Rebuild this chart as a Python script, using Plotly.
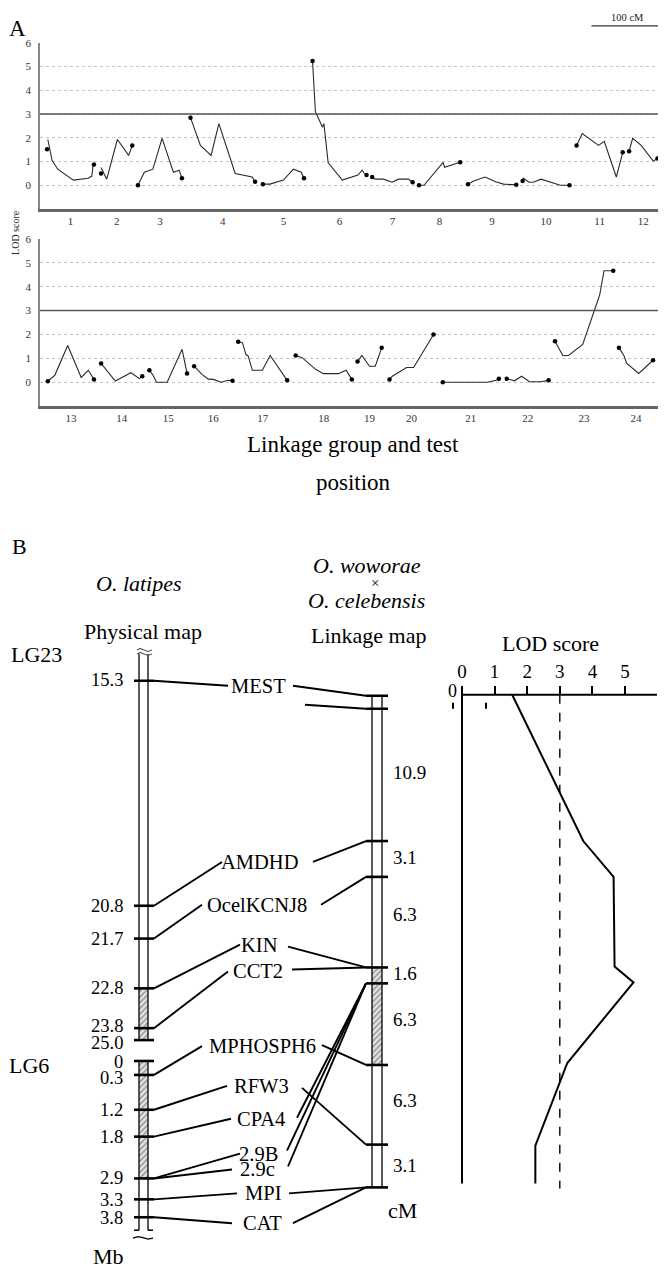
import plotly.graph_objects as go

# target canvas in page pixels; the page body adds an 8px margin, so the figure is drawn 8px smaller
PAGE_W, PAGE_H = 666, 1271
OFF = 8
W, H = PAGE_W - OFF, PAGE_H - OFF
SERIF = "Liberation Serif, Times New Roman, Times, serif"

# ---------------- Panel A data (positions in cM along the genome, LOD scores) ----------------
top_groups = [str(i) for i in range(1, 13)]
bot_groups = [str(i) for i in range(13, 25)]

top_pos = [
    [11, 17, 25, 47, 68, 73, 75],
    [86, 94, 109, 125, 130],
    [138, 147, 159, 172, 188, 196, 200],
    [212, 226, 241, 252, 275, 299, 303],
    [314, 324, 343, 357, 368, 372],
    [384, 388, 398, 400, 406, 426, 448, 454, 457],
    [468, 472, 484, 496, 505, 519, 525],
    [534, 541, 568, 570, 592],
    [603, 611, 627, 642, 653, 671],
    [680, 681, 689, 695, 706, 733, 746],
    [756, 764, 787, 795, 812, 821],
    [830, 835, 847, 864, 870],
]
top_lod = [
    [1.93, 1.05, 0.68, 0.22, 0.30, 0.39, 0.88],
    [0.75, 0.26, 1.93, 1.26, 1.68],
    [0.00, 0.55, 0.68, 1.98, 0.55, 0.64, 0.30],
    [2.85, 1.68, 1.26, 2.60, 0.50, 0.35, 0.15],
    [0.05, 0.05, 0.22, 0.68, 0.55, 0.30],
    [5.24, 3.10, 2.45, 2.60, 0.95, 0.22, 0.43, 0.64, 0.50],
    [0.35, 0.26, 0.26, 0.13, 0.26, 0.26, 0.13],
    [0.00, 0.00, 0.97, 0.76, 0.97],
    [0.05, 0.18, 0.35, 0.15, 0.05, 0.02],
    [0.18, 0.30, 0.13, 0.13, 0.26, 0.00, 0.00],
    [1.68, 2.18, 1.68, 1.85, 0.35, 1.39],
    [1.43, 1.98, 1.68, 1.02, 1.13],
]
top_mark_pos = [[10, 76], [86, 130], [138, 200], [212, 303], [314, 372], [384, 460],
                [468, 525], [534, 592], [603, 671], [680, 746], [756, 821], [830, 870]]
top_mark_lod = [[1.52, 0.88], [0.50, 1.68], [0.00, 0.30], [2.85, 0.15], [0.05, 0.30], [5.24, 0.43],
                [0.35, 0.13], [0.00, 0.97], [0.05, 0.02], [0.18, 0.00], [1.68, 1.39], [1.43, 1.13]]

bot_pos = [
    [11, 21, 39, 58, 68, 76],
    [86, 106, 128, 140, 144],
    [154, 159, 164, 179, 200, 207],
    [217, 228, 237, 244, 255, 265, 271],
    [279, 285, 290, 293, 299, 313, 324, 348],
    [360, 369, 388, 399, 420, 431, 439],
    [447, 453, 464, 472, 481],
    [492, 496, 516, 526, 554],
    [567, 630, 642, 646],
    [657, 668, 678, 689, 705, 716],
    [725, 736, 744, 764, 785, 788, 794, 807],
    [815, 822, 826, 843, 863],
]
bot_lod = [
    [0.04, 0.30, 1.54, 0.20, 0.50, 0.12],
    [0.79, 0.05, 0.40, 0.15, 0.25],
    [0.50, 0.30, 0.00, 0.00, 1.38, 0.37],
    [0.67, 0.33, 0.13, 0.12, 0.00, 0.08, 0.06],
    [1.70, 1.65, 1.16, 1.10, 0.50, 0.50, 1.12, 0.08],
    [1.12, 1.03, 0.54, 0.36, 0.36, 0.50, 0.12],
    [0.87, 1.12, 0.67, 0.67, 1.44],
    [0.12, 0.25, 0.62, 0.62, 2.00],
    [0.00, 0.00, 0.08, 0.15],
    [0.15, 0.06, 0.25, 0.02, 0.02, 0.08],
    [1.72, 1.12, 1.12, 1.58, 3.40, 3.67, 4.67, 4.67],
    [1.44, 1.12, 0.79, 0.37, 0.92],
]
lod_threshold = 3.0
scale_bar_cm = 100
top_range = [0, 882]
bot_range = [0, 870]

# ---------------- Panel B data (schematic map positions in drawing units) ----------------
phys_tick_labels = ["15.3", "20.8", "21.7", "22.8", "23.8", "25.0", "0", "0.3", "1.2", "1.8", "2.9", "3.3", "3.8"]
phys_tick_pos = [678, 904, 937, 987, 1027, 1039, 1060, 1074, 1109, 1136, 1178, 1199, 1217]
phys_label_pos = [677, 904, 937, 987, 1025, 1042, 1061, 1077, 1109, 1136, 1178, 1200, 1218]
phys_hatch = [(987, 1039), (1060, 1178)]
phys_bars = [(651, 1039), (1060, 1230)]

link_tick_pos = [693, 706, 839, 875, 966, 982, 1064, 1144, 1187]
link_interval_labels = ["10.9", "3.1", "6.3", "1.6", "6.3", "6.3", "3.1"]
link_interval_pos = [770, 856, 913, 972, 1018, 1100, 1165]
link_hatch = [(966, 1064)]

genes = ["MEST", "AMDHD", "OcelKCNJ8", "KIN", "CCT2", "MPHOSPH6", "RFW3", "CPA4", "2.9B", "2.9c", "MPI", "CAT"]
gene_phys_pos = [678, 904, 937, 987, 1027, 1074, 1109, 1136, 1178, 1178, 1199, 1217]
gene_link_pos = [693, 839, 875, 966, 966, 1064, 1144, 982, 982, 982, 1187, 1187]
gene_label_x = [258, 259, 257, 259, 258, 262, 261, 261, 258, 257, 263, 262]
gene_label_y = [683, 860, 903, 943, 970, 1045, 1085, 1118, 1153, 1169, 1193, 1223]
gene_left_end = [228, 222, 202, 240, 228, 202, 227, 231, 240, 232, 237, 232]
gene_right_start = [293, 313, 321, 288, 292, 322, 302, 297, 287, 288, 289, 293]
gene_right_y = [683, 860, 903, 945, 968, 1044, 1087, 1117, 1150, 1166, 1193, 1223]

lod_curve_pos = [692, 839, 875, 965, 981, 1062, 1145, 1183]
lod_curve_val = [1.54, 3.72, 4.65, 4.68, 5.26, 3.23, 2.25, 2.25]
lod_ticks = [0, 1, 2, 3, 4, 5]

# ---------------- build ----------------
fig = go.Figure()


def px(p):
    return (p - OFF) / W


def py(p):
    return 1 - (p - OFF) / H


def segs(lst):
    xs, ys = [], []
    for (x0, y0, x1, y1) in lst:
        xs += [x0, x1, None]
        ys += [y0, y1, None]
    return xs, ys


LINE_A = dict(color="#2a2a2a", width=1.1)

for xs, ys in zip(top_pos, top_lod):
    fig.add_trace(go.Scatter(x=xs, y=ys, mode="lines", line=LINE_A, xaxis="x", yaxis="y",
                             showlegend=False, hoverinfo="skip"))
mx = [v for p in top_mark_pos for v in p]
my = [v for p in top_mark_lod for v in p]
fig.add_trace(go.Scatter(x=mx, y=my, mode="markers", marker=dict(color="black", size=4.5),
                         xaxis="x", yaxis="y", showlegend=False, hoverinfo="skip"))

for xs, ys in zip(bot_pos, bot_lod):
    fig.add_trace(go.Scatter(x=xs, y=ys, mode="lines", line=LINE_A, xaxis="x2", yaxis="y2",
                             showlegend=False, hoverinfo="skip"))
bmx = [v for p in bot_pos for v in (p[0], p[-1])]
bmy = [v for p in bot_lod for v in (p[0], p[-1])]
fig.add_trace(go.Scatter(x=bmx, y=bmy, mode="markers", marker=dict(color="black", size=4.5),
                         xaxis="x2", yaxis="y2", showlegend=False, hoverinfo="skip"))

top_centers = [(p[0] + p[1]) / 2 for p in top_mark_pos]
bot_centers = [(p[0] + p[-1]) / 2 for p in bot_pos]

shapes = [
    dict(type="line", xref="x", yref="y", x0=top_range[0], x1=top_range[1], y0=lod_threshold, y1=lod_threshold,
         line=dict(color="#555", width=1.5)),
    dict(type="line", xref="x2", yref="y2", x0=bot_range[0], x1=bot_range[1], y0=lod_threshold, y1=lod_threshold,
         line=dict(color="#555", width=1.5)),
    dict(type="line", xref="x", yref="paper", x0=777, x1=777 + scale_bar_cm, y0=py(20), y1=py(20),
         line=dict(color="#333", width=1.3)),
]


def add_b(xs, ys, width=2, color="black", dash=None, xaxis="x3"):
    fig.add_trace(go.Scatter(x=xs, y=ys, mode="lines", xaxis=xaxis, yaxis="y3",
                             line=dict(color=color, width=width, dash=dash),
                             showlegend=False, hoverinfo="skip"))


PB_L, PB_R = 139, 148
LB_L, LB_R = 372, 382

HATCH = dict(shape="/", fgcolor="#333", bgcolor="#e4e4e4", size=4, solidity=0.35)
for (a, b) in phys_hatch:
    fig.add_trace(go.Scatter(x=[PB_L, PB_R, PB_R, PB_L, PB_L], y=[a, a, b, b, a], mode="lines", fill="toself",
                             fillcolor="#d8d8d8", fillpattern=HATCH, line=dict(width=0),
                             xaxis="x3", yaxis="y3", showlegend=False, hoverinfo="skip"))
for (a, b) in link_hatch:
    fig.add_trace(go.Scatter(x=[LB_L, LB_R, LB_R, LB_L, LB_L], y=[a, a, b, b, a], mode="lines", fill="toself",
                             fillcolor="#d8d8d8", fillpattern=HATCH, line=dict(width=0),
                             xaxis="x3", yaxis="y3", showlegend=False, hoverinfo="skip"))

bar_segs = []
for (a, b) in phys_bars:
    bar_segs += [(PB_L, a, PB_L, b), (PB_R, a, PB_R, b)]
bar_segs += [(LB_L, link_tick_pos[0], LB_L, link_tick_pos[-1]), (LB_R, link_tick_pos[0], LB_R, link_tick_pos[-1])]
bx, by = segs(bar_segs)
add_b(bx, by, width=1.3)

add_b([137, 140, 144, 148, 152], [647, 645.5, 647, 648.5, 647], width=1.1, color="#555")
add_b([137, 140, 144, 148, 152], [651, 649.5, 651, 652.5, 651], width=1.1, color="#555")
add_b([133, 138, 143, 148, 153], [1238, 1236.5, 1237.5, 1239, 1238], width=1.3)
hx, hy = segs([(134, 1230, PB_L, 1230), (PB_R, 1230, 153, 1230)])
add_b(hx, hy, width=1.5)

tx, ty = segs([(134, p, 154, p) for p in phys_tick_pos] + [(366, p, 388, p) for p in link_tick_pos])
add_b(tx, ty, width=2.6)

conn = []
for i in range(len(genes)):
    conn.append((154, gene_phys_pos[i], gene_left_end[i], gene_label_y[i]))
    conn.append((gene_right_start[i], gene_right_y[i], 366, gene_link_pos[i]))
conn.append((305, 702, 366, link_tick_pos[1]))
cx, cy = segs(conn)
add_b(cx, cy, width=1.9)

sx, sy = segs([(453, 700, 453, 706), (486, 700, 486, 706)])
add_b(sx, sy, width=2)

add_b([0, 0], [692, 1183], width=2, xaxis="x4")
add_b([-0.03, 5.98], [692, 692], width=2, xaxis="x4")
add_b([lod_threshold, lod_threshold], [692, 1188], width=1.4, dash="dash", xaxis="x4")
add_b(lod_curve_val, lod_curve_pos, width=2, xaxis="x4")

# ---------------- annotations ----------------
ann = []


def tx_paper(text, x, y, size, **kw):
    d = dict(text=text, x=px(x), y=py(y), xref="paper", yref="paper", showarrow=False,
             font=dict(family=SERIF, size=size, color=kw.pop("color", "black")),
             xanchor=kw.pop("xanchor", "center"), yanchor=kw.pop("yanchor", "middle"))
    d.update(kw)
    ann.append(d)


def tx_b(text, x, y, size, xanchor="center"):
    ann.append(dict(text=text, x=x, y=y, xref="x3", yref="y3", showarrow=False,
                    font=dict(family=SERIF, size=size, color="black"), xanchor=xanchor, yanchor="middle"))


tx_paper("A", 17, 8, 23, yanchor="top")
tx_paper("100 cM", 627, 12, 10.5, color="#222")
tx_paper("LOD score", 16, 228, 10, textangle=-90, color="#222")
tx_paper("Linkage group and test", 353, 441, 23)
tx_paper("position", 353, 479, 23)

tx_b("B", 19, 543, 22)
tx_b("<i>O. latipes</i>", 139, 580, 22)
tx_b("Physical map", 143, 628, 22)
tx_b("LG23", 36, 652, 22)
tx_b("<i>O. woworae</i>", 367, 562, 22)
tx_b("×", 375, 580, 15)
tx_b("<i>O. celebensis</i>", 366, 597, 22)
tx_b("Linkage map", 368, 632, 22)
tx_b("LOD score", 550, 641, 22)
tx_b("LG6", 29, 1065, 22)
tx_b("Mb", 108, 1256, 22)
tx_b("cM", 402, 1210, 22)
tx_b("0", 452, 688, 18)
for lab, p in zip(phys_tick_labels, phys_label_pos):
    tx_b(lab, 125, p, 18.5, xanchor="right")
for g, x, y in zip(genes, gene_label_x, gene_label_y):
    tx_b(g, x, y, 20.5)
for lab, p in zip(link_interval_labels, link_interval_pos):
    tx_b(lab, 391, p, 19, xanchor="left")

TICKFONT = dict(family=SERIF, size=11, color="#333")
LOD_PX = 32.6
x4_lo, x4_hi = -0.6, 6.1

fig.update_layout(
    width=W, height=H, margin=dict(l=0, r=0, t=0, b=0),
    paper_bgcolor="white", plot_bgcolor="rgba(0,0,0,0)",
    showlegend=False,
    xaxis=dict(domain=[px(40), px(666)], range=top_range, anchor="y", showgrid=False, zeroline=False,
               showline=True, linecolor="#666", linewidth=3, ticks="", tickvals=top_centers,
               ticktext=top_groups, tickfont=TICKFONT, fixedrange=True),
    yaxis=dict(domain=[py(204), py(37)], range=[-1, 6], anchor="x", tickvals=list(range(7)),
               showgrid=True, gridcolor="#c4c4c4", griddash="dot", gridwidth=1, zeroline=False,
               showline=True, linecolor="#888", linewidth=1.5, ticks="", tickfont=TICKFONT,
               ticklabelstandoff=5, fixedrange=True),
    xaxis2=dict(domain=[px(40), px(658)], range=bot_range, anchor="y2", showgrid=False, zeroline=False,
                showline=True, linecolor="#666", linewidth=3, ticks="", tickvals=bot_centers,
                ticktext=bot_groups, tickfont=TICKFONT, fixedrange=True),
    yaxis2=dict(domain=[py(402), py(234)], range=[-1, 6], anchor="x2", tickvals=list(range(7)),
                showgrid=True, gridcolor="#c4c4c4", griddash="dot", gridwidth=1, zeroline=False,
                showline=True, linecolor="#888", linewidth=1.5, ticks="", tickfont=TICKFONT,
                ticklabelstandoff=5, fixedrange=True),
    xaxis3=dict(domain=[0, 1], range=[OFF, PAGE_W], anchor="y3", visible=False, fixedrange=True),
    yaxis3=dict(domain=[0, py(520)], range=[PAGE_H, 520], anchor="x3", visible=False, fixedrange=True),
    xaxis4=dict(domain=[px(462 + x4_lo * LOD_PX), px(462 + x4_hi * LOD_PX)], range=[x4_lo, x4_hi],
                anchor="free", position=py(692), side="top", showline=False, showgrid=False, zeroline=False,
                ticks="outside", ticklen=9, tickwidth=2, tickcolor="black", tickvals=lod_ticks,
                tickfont=dict(family=SERIF, size=19, color="black"), fixedrange=True),
    shapes=shapes,
    annotations=ann,
)

fig.write_html("out.html")
